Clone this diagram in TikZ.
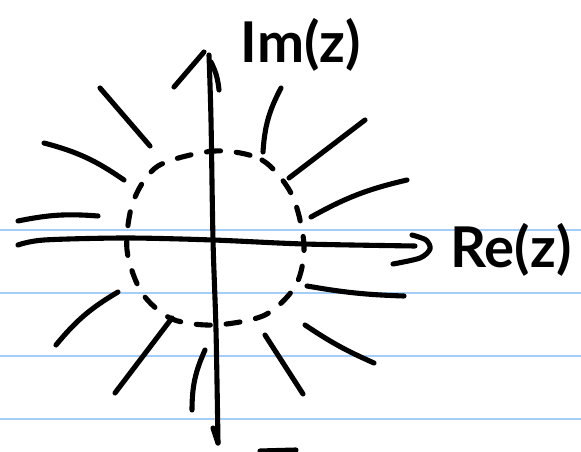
\documentclass[tikz,border=0pt]{standalone}
\usepackage{fontspec}
\setsansfont{Lato}
\usepackage{tikz}
\usetikzlibrary{positioning, arrows.meta}

\definecolor{ruleblue}{RGB}{166,205,246}

\begin{document}
\begin{tikzpicture}[
            x=0.02cm, y=-0.02cm,
            pen/.style={
                line width=2.9pt,
                line cap=round,
                line join=round
            },
            ruled/.style={
                draw=ruleblue,
                line width=1pt
            },
            dashcirc/.style={
                pen,
                dash pattern=on 8pt off 9pt
            },
            label/.style={
                font=\sffamily\bfseries\fontsize{32}{36}\selectfont,
                inner sep=0pt
            }
        ]
            \useasboundingbox (0,0) rectangle (581,452);

            % ruled paper
            \foreach \ry in {230,293,356,419}
                \draw [ruled] (0,\ry) -- (581,\ry);

            \coordinate (origin) at (213,240);
            \coordinate (xleft) at (18,245);
            \coordinate (xright) at (415,246);
            \coordinate (ybottom) at (218,443);
            \coordinate (ytop) at (209,55);

            % axes
            \draw [pen] plot[smooth] coordinates {(xleft) (44,240) (126,238) (origin) (304,244) (xright)};
            \draw [pen] plot[smooth] coordinates {(412,235) (426,240) (430,249) (420,258) (393,264)};
            \draw [pen] plot[smooth] coordinates {(ybottom) (216,330) (213,240) (211,120) (ytop)};
            \draw [pen] (174,87) -- (204,52);
            \draw [pen] (211,62) to[bend left=10] (219,90);
            \draw [pen] (213,428) -- (ybottom);

            \node [label] (imlabel) at (301,45) {Im(z)};
            \node [label] (relabel) at (511,250) {Re(z)};

            % dashed circle
            \draw [dashcirc] plot[smooth cycle] coordinates {
                (215,151) (262,160) (292,195) (304,245) (296,285)
                (265,315) (215,325) (172,319) (142,293) (127,250)
                (133,202) (158,166)};

            % radial strokes
            \draw [pen] (100,88) -- (150,146);
            \draw [pen] (44,143) to[bend left=10] (124,180);
            \draw [pen] (18,221) to[bend left=8] (98,216);
            \draw [pen] (118,292) to[bend right=10] (56,345);
            \draw [pen] (172,318) -- (115,393);
            \draw [pen] (205,350) to[bend right=12] (192,410);
            \draw [pen] (265,335) -- (303,394);
            \draw [pen] (305,325) to[bend right=5] (374,363);
            \draw [pen] (307,286) to[bend right=4] (404,296);
            \draw [pen] (311,217) to[bend left=8] (407,180);
            \draw [pen] (289,178) -- (365,120);
            \draw [pen] (263,152) to[bend left=12] (281,88);

            \draw [pen] (260,451) -- (296,450);

        \end{tikzpicture}
\end{document}
